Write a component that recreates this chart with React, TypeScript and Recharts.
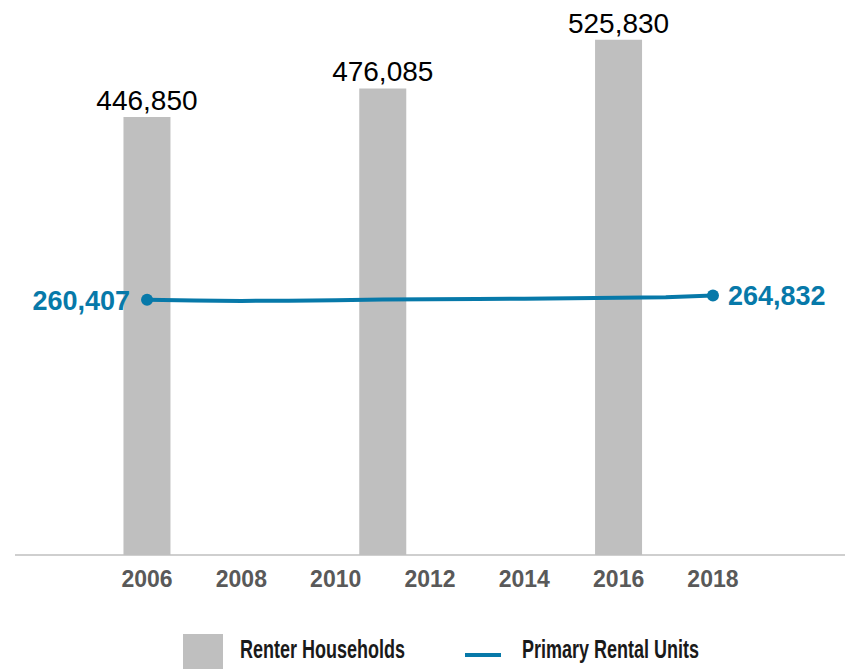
import { ComposedChart, Bar, Line, XAxis, YAxis, LabelList } from 'recharts'

const years = [2006, 2007, 2008, 2009, 2010, 2011, 2012, 2013, 2014, 2015, 2016, 2017, 2018]
const primaryRentalUnits = [
  260407, 259750, 259300, 259500, 259850, 260600, 260950, 261200, 261500, 262050, 262500, 263050, 264832,
]
const renterYears = [2006, 2011, 2016]
const renterHouseholds = [446850, 476085, 525830]
const tickYears = [2006, 2008, 2010, 2012, 2014, 2016, 2018]

const data = years.map((year, i) => {
  const idx = renterYears.indexOf(year)
  return {
    year,
    units: primaryRentalUnits[i],
    renter: idx >= 0 ? renterHouseholds[idx] : null,
  }
})

const BLUE = '#0779a9'
const GRAY = '#bfbfbf'
const SANS = '"Liberation Sans", Arial, sans-serif'

const fmt = (v: number) => v.toLocaleString('en-US')

function EndDot(props: any) {
  const { cx, cy, index } = props
  if (index !== 0 && index !== years.length - 1) return <g key={index} />
  return <circle key={index} cx={cx} cy={cy} r={6} fill={BLUE} />
}

function EndLabel(props: any) {
  const { x, y, index, value } = props
  if (index !== 0 && index !== years.length - 1) return <g key={index} />
  const first = index === 0
  return (
    <text
      key={index}
      x={first ? x - 17 : x + 15}
      y={y}
      dy="0.36em"
      textAnchor={first ? 'end' : 'start'}
      fill={BLUE}
      fontSize={27}
      fontWeight={700}
      fontFamily={SANS}
    >
      {fmt(value)}
    </text>
  )
}

function LegendText({ x, y, children }: { x: number; y: number; children: string }) {
  return (
    <text
      transform={`translate(${x},${y}) scale(0.72,1)`}
      fontFamily={SANS}
      fontWeight={700}
      fontSize={25}
      fill="#1a1a1a"
    >
      {children}
    </text>
  )
}

export default function App() {
  return (
    <div style={{ position: 'relative', width: 854, height: 669, margin: '-8px 0 0 -8px', background: '#fff' }}>
      <ComposedChart
        width={854}
        height={669}
        data={data}
        margin={{ top: 16, right: 9, left: 15, bottom: 74 }}
      >
        <XAxis
          dataKey="year"
          type="number"
          domain={[2003.2, 2020.8]}
          ticks={tickYears}
          height={40}
          axisLine={{ stroke: GRAY, strokeWidth: 1.5 }}
          tickLine={false}
          tick={{ fill: '#595959', fontSize: 23, fontWeight: 700, fontFamily: SANS }}
          tickMargin={10}
        />
        <YAxis hide domain={[0, 550000]} />
        <Bar dataKey="renter" fill={GRAY} barSize={47} isAnimationActive={false}>
          <LabelList
            dataKey="renter"
            position="top"
            offset={7}
            fill="#000"
            fontSize={28}
            fontFamily={SANS}
            formatter={(v: any) => (v == null ? '' : fmt(v))}
          />
        </Bar>
        <Line
          dataKey="units"
          stroke={BLUE}
          strokeWidth={4}
          dot={EndDot}
          activeDot={false}
          label={EndLabel}
          isAnimationActive={false}
        />
      </ComposedChart>
      <svg
        width={854}
        height={669}
        style={{ position: 'absolute', left: 0, top: 0, pointerEvents: 'none' }}
      >
        <rect x={183} y={634} width={40} height={35} fill={GRAY} />
        <LegendText x={240} y={658}>Renter Households</LegendText>
        <rect x={465} y={653} width={36} height={4} fill={BLUE} />
        <LegendText x={522} y={658}>Primary Rental Units</LegendText>
      </svg>
    </div>
  )
}
